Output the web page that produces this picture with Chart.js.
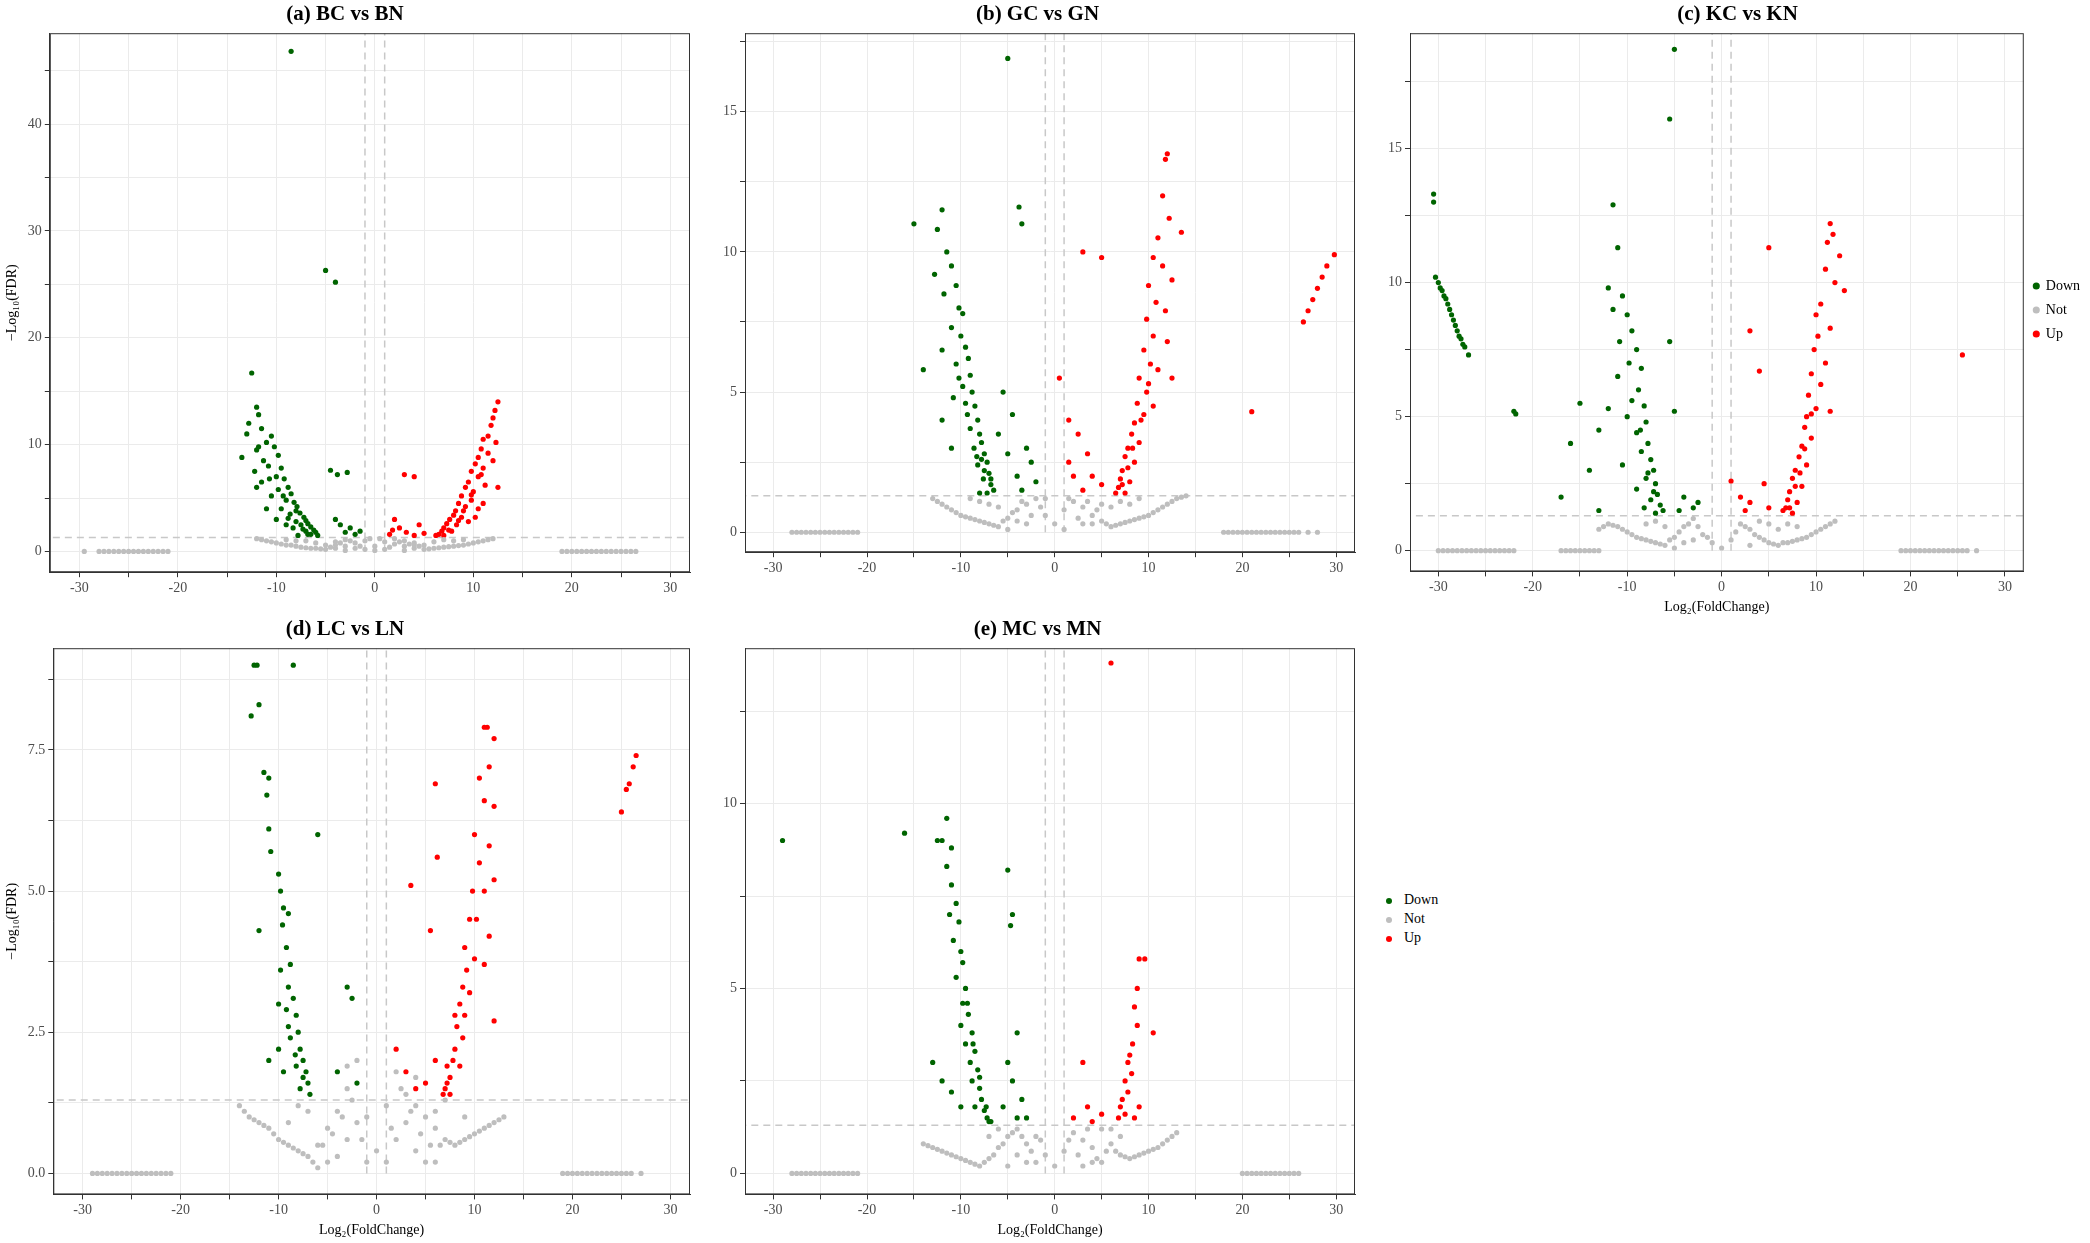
<!DOCTYPE html>
<html><head><meta charset="utf-8">
<script src="https://cdn.jsdelivr.net/npm/chart.js@4.4.1/dist/chart.umd.min.js"></script>
<style>
body{margin:0;background:#fff;width:2090px;height:1243px;position:relative;overflow:hidden;font-family:"Liberation Serif",serif}
.p{position:absolute}
#leg2{position:absolute;left:1380px;top:890px;font-size:14px;line-height:19px}
#leg2 span{display:inline-block;width:6px;height:6px;border-radius:50%;margin:0 12px 0 6px;vertical-align:middle}
</style></head><body>
<div class="p" style="left:0;top:0;width:700px;height:610px"><canvas id="ca"></canvas></div>
<div class="p" style="left:700px;top:0;width:665px;height:590px"><canvas id="cb"></canvas></div>
<div class="p" style="left:1365px;top:0;width:725px;height:620px"><canvas id="cc"></canvas></div>
<div class="p" style="left:0;top:615px;width:700px;height:628px"><canvas id="cd"></canvas></div>
<div class="p" style="left:700px;top:615px;width:665px;height:628px"><canvas id="ce"></canvas></div>
<div id="leg2"><div><span style="background:#006400"></span>Down</div><div><span style="background:#bebebe"></span>Not</div><div><span style="background:#ff0000"></span>Up</div></div>
<script>
// (a) BC vs BN
const downA = [[-8.5,46.8],[-5,26.3],[-4,25.2],[-12.5,16.7],[-12,13.5],[-11.8,12.8],[-12.8,12],[-13,11],[-11.5,11.5],[-10.5,10.8],[-11,10.2],[-10.2,9.8],[-12,9.5],[-13.5,8.8],[-9.8,9],[-11.3,8.5],[-10.8,8],[-9.5,7.8],[-12.2,7.5],[-10,7],[-9.2,6.8],[-11.5,6.5],[-8.8,6],[-9.8,5.8],[-10.5,5.2],[-8.5,5.4],[-9,4.8],[-8.2,4.6],[-7.9,4.2],[-9.5,4],[-8,3.8],[-7.6,3.6],[-7.2,3.2],[-8.8,3.1],[-7,2.9],[-6.8,2.6],[-7.5,2.5],[-6.5,2.3],[-8.3,2.2],[-6.2,2],[-7,1.9],[-6,1.8],[-6.8,1.6],[-5.8,1.5],[-7.8,1.5],[-4.5,7.6],[-3.8,7.2],[-2.8,7.4],[-4,3],[-3.5,2.5],[-2.5,2.2],[-3,1.8],[-2,1.6],[-1.5,1.9],[-12,6],[-11,4],[-10,3],[-9,2.5],[-8,2.8],[-6.5,1.6],[-7.3,2.1],[-8.6,3.5],[-9.3,5.2],[-10.7,6.8],[-11.8,9.8]];
const upA = [[12.5,14],[12.2,13.2],[12,12.5],[11.8,11.8],[11.5,10.8],[12.3,10.2],[11,10.5],[10.8,9.6],[11.5,9.2],[10.5,8.8],[12,8.5],[10.2,8.2],[11,7.8],[9.8,7.5],[10.5,7],[9.5,6.5],[11.2,6.2],[9.2,6],[10,5.6],[8.8,5.2],[9.8,4.8],[8.5,4.5],[9.2,4.2],[8.2,3.8],[10.5,4],[8,3.4],[8.8,3.2],[7.6,3],[7.3,2.6],[8.3,2.5],[7,2.2],[6.8,1.9],[7.8,1.9],[6.5,1.6],[6.2,1.5],[9.5,2.8],[10.2,3.2],[11,4.5],[12.5,6],[3,7.2],[4,7],[2,3],[2.5,2.2],[3.2,1.8],[1.5,1.6],[4.5,2.5],[4,1.5],[5,1.7],[1.8,2],[7,1.5],[7.5,2],[8.5,2.9],[9,3.8],[9.8,5.3],[10.8,7.2]];
const notA = [[-29.5,0],[-28,0],[-27.5,0],[-27,0],[-26.5,0],[-26,0],[-25.5,0],[-25,0],[-24.5,0],[-24,0],[-23.5,0],[-23,0],[-22.5,0],[-22,0],[-21.5,0],[-21,0],[19,0],[19.5,0],[20,0],[20.5,0],[21,0],[21.5,0],[22,0],[22.5,0],[23,0],[23.5,0],[24,0],[24.5,0],[25,0],[25.5,0],[26,0],[26.5,0],[-12,1.2],[-11,1],[-10,0.8],[-9,0.6],[-8,0.5],[-7,0.35],[-6,0.3],[-5,0.2],[-4,0.3],[-3,0.5],[-2,0.8],[-1,1],[0,0.5],[1,0.9],[2,0.7],[3,0.5],[4,0.3],[5,0.2],[6,0.3],[7,0.4],[8,0.5],[9,0.6],[10,0.8],[11,1],[12,1.2],[-5,0.6],[-4,0.9],[-3,1.1],[-2,0.3],[-1,0.2],[0,0.1],[1,0.2],[2,1.2],[3,1],[4,0.8],[5,0.6],[-6,0.8],[6,0.9],[-7,1],[7,1.1],[-3,0.1],[3,0.1],[-0.5,1.2],[0.5,1.2],[-11.5,1.1],[-10.5,0.9],[-9.5,0.7],[-8.5,0.6],[-7.5,0.4],[-6.5,0.3],[-5.5,0.25],[-4.5,0.4],[-3.5,0.8],[-2.5,1],[-1.5,0.5],[1.5,0.4],[2.5,0.9],[3.5,0.7],[4.5,0.5],[5.5,0.25],[6.5,0.35],[7.5,0.45],[8.5,0.55],[9.5,0.7],[10.5,0.9],[11.5,1.1],[-8,1],[-9,1.1],[8,1],[9,1.1],[-4,0.6],[4,0.6]];

// (b) GC vs GN
const downB = [[-5,16.9],[-3.8,11.6],[-3.5,11],[-15,11],[-12,11.5],[-12.5,10.8],[-11.5,10],[-11,9.5],[-12.8,9.2],[-10.5,8.8],[-11.8,8.5],[-10.2,8],[-9.8,7.8],[-11,7.3],[-10,7],[-9.5,6.6],[-12,6.5],[-9.2,6.2],[-10.5,6],[-14,5.8],[-9,5.6],[-9.8,5.2],[-8.8,5],[-10.8,4.8],[-8.5,4.5],[-9.3,4.2],[-8.2,4],[-9,3.7],[-8,3.5],[-7.8,3.2],[-8.6,3],[-7.5,2.8],[-7.2,2.5],[-8.2,2.4],[-7,2.1],[-7.6,1.9],[-6.8,1.7],[-6.5,1.5],[-8,1.4],[-7.2,1.4],[-5.5,5],[-4.5,4.2],[-3,3],[-2.5,2.5],[-4,2],[-2,1.8],[-3.5,1.5],[-5,2.8],[-6,3.5],[-11,3],[-12,4],[-7.5,2.2],[-8.3,2.7],[-9.5,4.6],[-10.2,5.5],[-6.8,1.9],[-7.8,2.6]];
const upB = [[12,13.5],[11.8,13.3],[11.5,12],[12.2,11.2],[13.5,10.7],[11,10.5],[10.5,9.8],[11.5,9.5],[12.5,9],[10,8.8],[10.8,8.2],[11.8,7.9],[9.8,7.6],[10.5,7],[12,6.8],[9.5,6.5],[10.2,6],[11,5.8],[12.5,5.5],[9,5.5],[9.8,5],[8.8,4.6],[9.5,4.2],[8.5,3.9],[10.5,4.5],[8.2,3.5],[9,3.2],[7.8,3],[7.5,2.7],[8.5,2.5],[7.2,2.2],[7,1.9],[8,1.8],[6.8,1.6],[6.5,1.4],[7.5,1.4],[3,10],[5,9.8],[0.5,5.5],[1.5,4],[2.5,3.5],[3.5,2.8],[1.5,2.5],[2,2],[4,2],[5,1.7],[3,1.5],[21,4.3],[26.5,7.5],[27,7.9],[27.5,8.3],[28,8.7],[28.5,9.1],[29,9.5],[29.8,9.9],[7.2,1.7],[7.8,2.3],[8.3,3],[9.2,4],[10,5.3]];
const notB = [[-28,0],[-27.5,0],[-27,0],[-26.5,0],[-26,0],[-25.5,0],[-25,0],[-24.5,0],[-24,0],[-23.5,0],[-23,0],[-22.5,0],[-22,0],[-21.5,0],[-21,0],[18,0],[18.5,0],[19,0],[19.5,0],[20,0],[20.5,0],[21,0],[21.5,0],[22,0],[22.5,0],[23,0],[23.5,0],[24,0],[24.5,0],[25,0],[25.5,0],[26,0],[27,0],[28,0],[-13,1.2],[-12,1],[-11,0.8],[-10,0.6],[-9,0.5],[-8,0.4],[-7,0.3],[-6,0.2],[-5,0.5],[-4,0.8],[-3,1],[-2,1.2],[-1,0.6],[0,0.3],[1,0.8],[2,1.1],[3,0.9],[4,0.6],[5,0.4],[6,0.2],[7,0.3],[8,0.4],[9,0.5],[10,0.6],[11,0.8],[12,1],[13,1.2],[14,1.3],[-5,0.1],[-3,0.3],[-1,1.2],[1,0.1],[3,0.3],[5,1],[6,0.9],[-6,0.9],[-7,1],[7,1.1],[8,1],[-12.5,1.1],[-11.5,0.9],[-10.5,0.7],[-9.5,0.55],[-8.5,0.45],[-7.5,0.35],[-6.5,0.25],[-5.5,0.4],[-4.5,0.7],[-3.5,1.1],[-2.5,0.6],[-1.5,0.9],[1.5,1.2],[2.5,0.5],[3.5,1.1],[4.5,0.8],[5.5,0.3],[6.5,0.25],[7.5,0.35],[8.5,0.45],[9.5,0.55],[10.5,0.7],[11.5,0.9],[12.5,1.1],[13.5,1.25],[-8,1.1],[-9,1.2],[9,1.2],[-4,0.4],[4,0.3]];

// (c) KC vs KN
const downC = [[-5,18.7],[-5.5,16.1],[-30.5,13.3],[-30.5,13],[-11.5,12.9],[-30.3,10.2],[-30,10],[-29.6,9.7],[-29.2,9.4],[-28.8,9],[-28.4,8.6],[-28,8.2],[-27.6,7.9],[-27.2,7.6],[-26.8,7.3],[-22,5.2],[-21.8,5.1],[-11,11.3],[-12,9.8],[-10.5,9.5],[-11.5,9],[-10,8.8],[-9.5,8.2],[-10.8,7.8],[-9,7.5],[-9.8,7],[-8.5,6.8],[-11,6.5],[-8.8,6],[-9.5,5.6],[-8.2,5.4],[-12,5.3],[-10,5],[-8,4.8],[-13,4.5],[-9,4.4],[-7.8,4],[-8.5,3.7],[-7.5,3.4],[-10.5,3.2],[-7.2,3],[-8,2.7],[-7,2.5],[-9,2.3],[-6.8,2.1],[-7.5,1.9],[-6.5,1.7],[-8.2,1.6],[-6.2,1.5],[-7,1.4],[-15,5.5],[-16,4],[-14,3],[-17,2],[-13,1.5],[-5.5,7.8],[-5,5.2],[-4,2],[-3,1.6],[-2.5,1.8],[-4.5,1.5],[-29.8,9.8],[-29.4,9.5],[-29,9.2],[-28.6,8.8],[-28.2,8.4],[-27.8,8],[-27.4,7.7],[-7.2,2.2],[-7.8,2.9],[-8.6,4.5]];
const upC = [[11.5,12.2],[11.8,11.8],[11.2,11.5],[12.5,11],[11,10.5],[12,10],[13,9.7],[10.5,9.2],[10,8.8],[11.5,8.3],[10.2,8],[9.8,7.5],[11,7],[9.5,6.6],[10.5,6.2],[9.2,5.8],[10,5.3],[11.5,5.2],[9,5],[8.8,4.6],[9.5,4.2],[8.5,3.9],[8.2,3.5],[9,3.2],[7.8,3],[7.5,2.7],[8.5,2.4],[7.2,2.2],[7,1.9],[8,1.8],[6.8,1.6],[6.5,1.5],[7.5,1.4],[5,11.3],[3,8.2],[4,6.7],[1,2.6],[2,2],[3,1.8],[4.5,2.5],[5,1.6],[2.5,1.5],[25.5,7.3],[7.2,1.6],[7.8,2.4],[8.3,2.9],[8.8,3.8],[9.5,5.1]];
const notC = [[-30,0],[-29.5,0],[-29,0],[-28.5,0],[-28,0],[-27.5,0],[-27,0],[-26.5,0],[-26,0],[-25.5,0],[-25,0],[-24.5,0],[-24,0],[-23.5,0],[-23,0],[-22.5,0],[-22,0],[-17,0],[-16.5,0],[-16,0],[-15.5,0],[-15,0],[-14.5,0],[-14,0],[-13.5,0],[-13,0],[19,0],[19.5,0],[20,0],[20.5,0],[21,0],[21.5,0],[22,0],[22.5,0],[23,0],[23.5,0],[24,0],[24.5,0],[25,0],[25.5,0],[26,0],[27,0],[-13,0.8],[-12,1],[-11,0.9],[-10,0.7],[-9,0.5],[-8,0.4],[-7,0.3],[-6,0.2],[-5,0.5],[-4,0.9],[-3,1.2],[-2,0.6],[-1,0.3],[0,0.1],[1,0.4],[2,1],[3,0.8],[4,0.5],[5,0.3],[6,0.2],[7,0.3],[8,0.4],[9,0.5],[10,0.7],[11,0.9],[12,1.1],[-5,0.1],[-3,0.4],[3,0.2],[5,1],[-6,0.9],[6,0.8],[-7,1.1],[7,1],[-12.5,0.9],[-11.5,0.95],[-10.5,0.8],[-9.5,0.6],[-8.5,0.45],[-7.5,0.35],[-6.5,0.25],[-5.5,0.4],[-4.5,0.7],[-3.5,1],[-2.5,0.9],[-1.5,0.5],[1.5,0.7],[2.5,0.9],[3.5,0.6],[4.5,0.4],[5.5,0.25],[6.5,0.3],[7.5,0.35],[8.5,0.45],[9.5,0.6],[10.5,0.8],[11.5,1],[-8,1],[8,0.9],[-4,0.3],[4,1.1]];

// (d) LC vs LN
const downD = [[-12.5,9],[-12.2,9],[-8.5,9],[-12.8,8.1],[-12,8.3],[-11.5,7.1],[-11,7],[-11.2,6.7],[-11,6.1],[-10.8,5.7],[-10,5.3],[-9.8,5],[-9.5,4.7],[-9,4.6],[-9.6,4.4],[-12,4.3],[-9.2,4],[-8.8,3.7],[-9,3.3],[-8.5,3.1],[-10,3],[-8.2,2.8],[-8,2.5],[-8.8,2.4],[-7.8,2.2],[-7.5,2],[-8.2,1.9],[-7.2,1.8],[-7,1.6],[-7.8,1.5],[-6.8,1.4],[-11,2],[-10,2.2],[-9.5,1.8],[-9,2.6],[-6,6],[-3,3.3],[-2.5,3.1],[-4,1.8],[-2,1.6],[-7.5,1.7],[-8.3,2.1],[-9.2,2.9],[-9.8,3.6]];
const upD = [[11,7.9],[11.3,7.9],[12,7.7],[11.5,7.2],[10.5,7],[11,6.6],[12,6.5],[10,6],[11.5,5.8],[10.5,5.5],[9.8,5],[11,5],[12,5.2],[9.5,4.5],[10.2,4.5],[11.5,4.2],[9,4],[10,3.8],[11,3.7],[8.8,3.3],[9.5,3.2],[8.5,3],[9,2.8],[8.2,2.6],[8.8,2.4],[8,2.2],[7.8,2],[8.5,1.9],[7.5,1.7],[7.2,1.6],[7,1.5],[6.8,1.4],[7.5,1.4],[12,2.7],[6,6.9],[6.2,5.6],[3.5,5.1],[5.5,4.3],[2,2.2],[3,1.8],[4,1.5],[5,1.6],[6,2],[25,6.4],[25.5,6.8],[25.8,6.9],[26.2,7.2],[26.5,7.4],[7.2,1.9],[8,2.8],[9.2,3.6]];
const notD = [[-29,0],[-28.5,0],[-28,0],[-27.5,0],[-27,0],[-26.5,0],[-26,0],[-25.5,0],[-25,0],[-24.5,0],[-24,0],[-23.5,0],[-23,0],[-22.5,0],[-22,0],[-21.5,0],[-21,0],[19,0],[19.5,0],[20,0],[20.5,0],[21,0],[21.5,0],[22,0],[22.5,0],[23,0],[23.5,0],[24,0],[24.5,0],[25,0],[25.5,0],[26,0],[27,0],[-14,1.2],[-13,1],[-12,0.9],[-11,0.8],[-10,0.6],[-9,0.5],[-8,0.4],[-7,0.3],[-6,0.5],[-5,0.8],[-4,1.1],[-3,1.5],[-2,2],[-1,1],[0,0.4],[1,1.2],[2,1.8],[3,1.4],[4,1.2],[5,1],[6,0.8],[7,0.6],[8,0.5],[9,0.6],[10,0.7],[11,0.8],[12,0.9],[13,1],[-4,0.3],[-3,0.6],[-2,0.9],[-1,0.2],[1,0.2],[2,0.6],[3,0.9],[4,0.4],[5,0.2],[6,0.2],[-6,0.1],[-5,0.2],[6,1.1],[7,1.3],[-7,1.1],[-8,1.2],[-13.5,1.1],[-12.5,0.95],[-11.5,0.85],[-10.5,0.7],[-9.5,0.55],[-8.5,0.45],[-7.5,0.35],[-6.5,0.2],[-5.5,0.5],[-4.5,0.7],[-3.5,1],[-2.5,1.3],[-1.5,0.6],[1.5,0.8],[2.5,1.5],[3.5,1.1],[4.5,0.7],[5.5,0.5],[6.5,0.5],[7.5,0.55],[8.5,0.55],[9.5,0.65],[10.5,0.75],[11.5,0.85],[12.5,0.95],[-9,0.9],[9,1],[-3,1.9],[4,1.7]];

// (e) MC vs MN
const downE = [[-29,9],[-16,9.2],[-11.5,9.6],[-12,9],[-12.5,9],[-11,8.8],[-11.5,8.3],[-11,7.8],[-10.5,7.3],[-11.2,7],[-10.2,6.8],[-10.8,6.3],[-10,6],[-9.8,5.7],[-10.5,5.3],[-9.5,5],[-9.8,4.6],[-9.2,4.3],[-10,4],[-8.8,3.8],[-9.5,3.5],[-8.5,3.3],[-9,3],[-8.2,2.8],[-8.8,2.5],[-8,2.3],[-7.8,2],[-8.5,1.8],[-7.5,1.7],[-7.2,1.5],[-7,1.4],[-6.8,1.4],[-12,2.5],[-13,3],[-11,2.2],[-10,1.8],[-5,8.2],[-4.5,7],[-4.7,6.7],[-4,3.8],[-5,3],[-4.5,2.5],[-3.5,2],[-5.5,1.8],[-4,1.5],[-3,1.5],[-7.3,1.8],[-8,2.6],[-8.7,3.5],[-9.3,4.6]];
const upE = [[6,13.8],[9,5.8],[9.6,5.8],[8.8,5],[8.5,4.5],[8.8,4],[10.5,3.8],[8.3,3.5],[8,3.2],[7.8,3],[8.2,2.7],[7.5,2.5],[7.8,2.2],[7.2,2],[7,1.8],[7.5,1.6],[6.8,1.5],[9,1.8],[8.5,1.5],[3,3],[2,1.5],[3.5,1.8],[5,1.6],[4,1.4]];
const notE = [[-28,0],[-27.5,0],[-27,0],[-26.5,0],[-26,0],[-25.5,0],[-25,0],[-24.5,0],[-24,0],[-23.5,0],[-23,0],[-22.5,0],[-22,0],[-21.5,0],[-21,0],[20,0],[20.5,0],[21,0],[21.5,0],[22,0],[22.5,0],[23,0],[23.5,0],[24,0],[24.5,0],[25,0],[25.5,0],[26,0],[-14,0.8],[-13,0.7],[-12,0.6],[-11,0.5],[-10,0.4],[-9,0.3],[-8,0.2],[-7,0.4],[-6,0.7],[-5,1],[-4,1.2],[-3,0.8],[-2,1],[-1,0.5],[0,0.2],[1,0.6],[2,1.1],[3,0.9],[4,0.7],[5,1.2],[6,0.8],[7,0.5],[8,0.4],[9,0.5],[10,0.6],[11,0.7],[12,0.9],[13,1.1],[-5,0.2],[-3,0.3],[3,0.2],[5,0.3],[-7,1],[7,1],[-2,0.3],[-13.5,0.75],[-12.5,0.65],[-11.5,0.55],[-10.5,0.45],[-9.5,0.35],[-8.5,0.25],[-7.5,0.3],[-6.5,0.5],[-5.5,0.8],[-4.5,1.1],[-3.5,1],[-2.5,0.6],[-1.5,0.9],[1.5,0.9],[2.5,0.5],[3.5,1.2],[4.5,0.4],[5.5,0.6],[6.5,0.6],[7.5,0.45],[8.5,0.45],[9.5,0.55],[10.5,0.65],[11.5,0.8],[12.5,1],[-6,1.2],[6,1.2],[-4,0.5],[4,0.3]];

const GREEN = '#006400', GREY = '#bebebe', RED = '#ff0000';
const FONT = 'Liberation Serif';
Chart.defaults.font.family = FONT;
Chart.defaults.color = '#4d4d4d';

function pts(a){ return a.map(p => ({x:p[0], y:p[1]})); }

// full panel border like theme_bw
const panelBox = {
  id:'panelBox',
  afterDraw(chart){
    const a = chart.chartArea, c = chart.ctx;
    c.save(); c.strokeStyle = '#333'; c.lineWidth = 1;
    c.strokeRect(a.left + 0.5, a.top + 0.5, a.right - a.left - 1, a.bottom - a.top - 1);
    c.restore();
  }
};

function volcano(id, title, down, not, up, yMax, yStep, yLabelEvery, yFmt, showY, showX, showLegend){
  const dash = {type:'line', borderColor:'#c8c8c8', borderWidth:1.5, borderDash:[7,5], pointRadius:0, showLine:true, fill:false};
  new Chart(document.getElementById(id), {
    type:'scatter',
    data:{datasets:[
      {label:'Down', data:pts(down), backgroundColor:GREEN, borderColor:GREEN, pointRadius:2.6, pointBorderWidth:0},
      {label:'Not', data:pts(not), backgroundColor:GREY, borderColor:GREY, pointRadius:2.6, pointBorderWidth:0},
      {label:'Up', data:pts(up), backgroundColor:RED, borderColor:RED, pointRadius:2.6, pointBorderWidth:0},
      Object.assign({label:'_v1', data:[{x:-1,y:0},{x:-1,y:yMax}]}, dash),
      Object.assign({label:'_v2', data:[{x:1,y:0},{x:1,y:yMax}]}, dash),
      Object.assign({label:'_h', data:[{x:-40,y:1.3},{x:40,y:1.3}]}, dash)
    ]},
    plugins:[panelBox],
    options:{
      responsive:true, maintainAspectRatio:false, animation:false,
      layout:{padding:{left:showY?0:20, right:showLegend?0:10, top:0, bottom:showX?0:10}},
      plugins:{
        title:{display:true, text:title, color:'#000', font:{size:21, weight:'bold', family:FONT}, padding:{top:2, bottom:6}},
        legend:{display:showLegend, position:'right',
          labels:{usePointStyle:true, pointStyle:'circle', boxWidth:5, boxHeight:5, color:'#000', font:{size:14},
            filter:i => !i.text.startsWith('_')}},
        tooltip:{enabled:false}
      },
      scales:{
        x:{type:'linear', min:-33, max:32,
          ticks:{stepSize:5, autoSkip:false, color:'#4d4d4d', font:{size:14}, maxRotation:0,
            callback:v => v % 10 === 0 ? v : ''},
          afterBuildTicks:ax => { ax.ticks = [-30,-25,-20,-15,-10,-5,0,5,10,15,20,25,30].map(v => ({value:v})); },
          grid:{color:'#ebebeb', tickColor:'#333', tickLength:5},
          border:{color:'#333', width:1},
          title:{display:showX, text:'Log₂(FoldChange)', color:'#000', font:{size:14}, padding:{top:0}}},
        y:{min:-yMax*0.04, max:yMax,
          ticks:{stepSize:yStep, color:'#4d4d4d', font:{size:14},
            callback:v => (Math.abs(v/yLabelEvery - Math.round(v/yLabelEvery)) < 1e-6) ? yFmt(v) : ''},
          afterBuildTicks:ax => { const t=[]; for(let v=0; v<=yMax+1e-9; v+=yStep) t.push({value:v}); ax.ticks=t; },
          grid:{color:'#ebebeb', tickColor:'#333', tickLength:5},
          border:{color:'#333', width:1},
          title:{display:showY, text:'−Log₁₀(FDR)', color:'#000', font:{size:14}}}
      }
    }
  });
}

volcano('ca','(a) BC vs BN', downA, notA, upA, 48.5, 5, 10, v=>v, true, false, false);
volcano('cb','(b) GC vs GN', downB, notB, upB, 17.8, 2.5, 5, v=>v, false, false, false);
volcano('cc','(c) KC vs KN', downC, notC, upC, 19.3, 2.5, 5, v=>v, false, true, true);
volcano('cd','(d) LC vs LN', downD, notD, upD, 9.3, 1.25, 2.5, v=>v.toFixed(1), true, true, false);
volcano('ce','(e) MC vs MN', downE, notE, upE, 14.2, 2.5, 5, v=>v, false, true, false);
</script>
</body></html>
